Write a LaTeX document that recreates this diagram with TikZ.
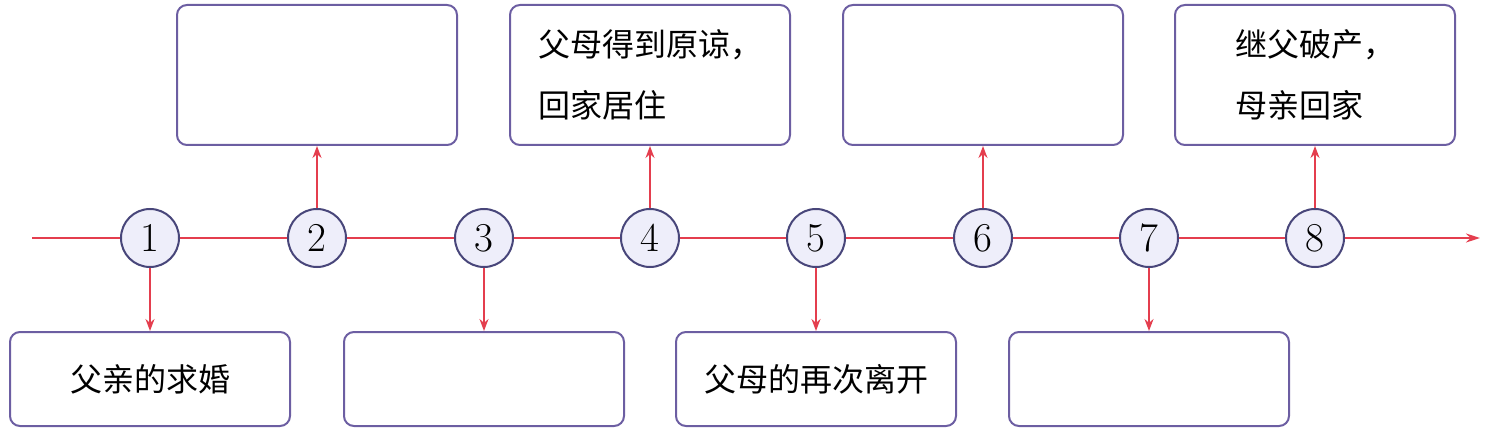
\documentclass[tikz,border=0pt]{standalone}
\usepackage{fontspec}
\newfontfamily\cjk{Noto Sans CJK SC}
\usetikzlibrary{arrows.meta}
\definecolor{lineRed}{RGB}{228,62,78}
\definecolor{dotEdge}{RGB}{72,70,122}
\definecolor{dotFill}{RGB}{238,238,250}
\definecolor{boxEdge}{RGB}{108,94,162}
\tikzset{
  dot/.style={circle, draw=dotEdge, fill=dotFill, line width=1pt, minimum size=29pt, inner sep=0pt, font=\fontsize{20.5}{24}\selectfont},
  eventbox/.style={draw=boxEdge, rounded corners=5pt, line width=1pt, minimum width=140pt, align=left, font=\cjk\fontsize{16}{30.5}\selectfont},
  topbox/.style={eventbox, minimum height=70pt},
  lowbox/.style={eventbox, minimum height=47pt},
  axis/.style={lineRed, line width=1pt},
  link/.style={lineRed, line width=0.9pt, -{Stealth[length=6pt,width=4.5pt]}}
}

\begin{document}
\begin{tikzpicture}[x=0.5pt,y=-0.5pt]
\useasboundingbox (0,0) rectangle (1490,433);
% time line
\coordinate (start) at (32,238);
\coordinate (end) at (1480,238);
\node[dot] (c1) at (150,238) {1};
\node[dot] (c2) at (317,238) {2};
\node[dot] (c3) at (484,238) {3};
\node[dot] (c4) at (650,238) {4};
\node[dot] (c5) at (816,238) {5};
\node[dot] (c6) at (983,238) {6};
\node[dot] (c7) at (1149,238) {7};
\node[dot] (c8) at (1315,238) {8};
\draw[axis, -{Stealth[length=7pt,width=4.5pt]}] (start) -- (c1) -- (c2) -- (c3) -- (c4) -- (c5) -- (c6) -- (c7) -- (c8) -- (end);
% boxes above
\node[topbox] (b2) at (317,75) {};
\node[topbox] (b4) at (650,75) {父母得到原谅，\\回家居住};
\node[topbox] (b6) at (983,75) {};
\node[topbox] (b8) at (1315,75) {继父破产，\\母亲回家};
% boxes below
\node[lowbox] (b1) at (150,379) {父亲的求婚};
\node[lowbox] (b3) at (484,379) {};
\node[lowbox] (b5) at (816,379) {父母的再次离开};
\node[lowbox] (b7) at (1149,379) {};
% links
\draw[link] (c1) -- (b1);
\draw[link] (c2) -- (b2);
\draw[link] (c3) -- (b3);
\draw[link] (c4) -- (b4);
\draw[link] (c5) -- (b5);
\draw[link] (c6) -- (b6);
\draw[link] (c7) -- (b7);
\draw[link] (c8) -- (b8);
\end{tikzpicture}
\end{document}
